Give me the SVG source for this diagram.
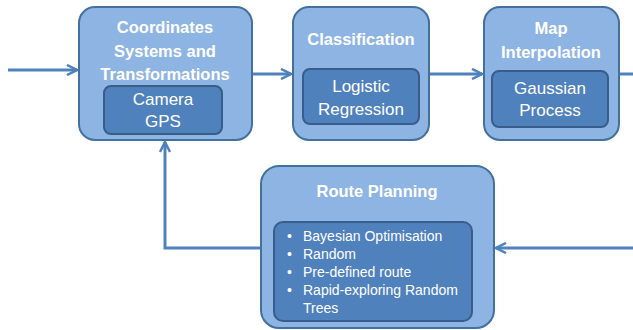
<svg xmlns="http://www.w3.org/2000/svg" width="633" height="330" viewBox="0 0 633 330">
<defs>
<style>
.outer{fill:#8EB4E3;stroke:#41719C;stroke-width:2}
.inner{fill:#4F81BD;stroke:#385D8A;stroke-width:2}
.t{font-family:"Liberation Sans",Arial,sans-serif;fill:#FFFFFF;text-anchor:middle}
.b{font-weight:bold;font-size:16.5px}
.r{font-size:17px}
.l{font-family:"Liberation Sans",Arial,sans-serif;fill:#FFFFFF;font-size:14px}
.c{fill:none;stroke:#4F81BD;stroke-width:3}
</style>
<marker id="ah" viewBox="0 0 12 12" refX="11" refY="6" markerWidth="12" markerHeight="12" markerUnits="userSpaceOnUse" orient="auto">
<path d="M1,1 L11,6 L1,11" fill="none" stroke="#4F81BD" stroke-width="2.5"/>
</marker>
</defs>
<rect width="633" height="330" fill="#FFFFFF"/>
<g id="connectors">
<line class="c" x1="8" y1="70" x2="77" y2="70" marker-end="url(#ah)"/>
<line class="c" x1="252" y1="74" x2="291" y2="74" marker-end="url(#ah)"/>
<line class="c" x1="429" y1="74" x2="482" y2="74" marker-end="url(#ah)"/>
<line class="c" x1="619" y1="74" x2="633" y2="74"/>
<polyline class="c" points="261,248 165,248 165,142" marker-end="url(#ah)"/>
<line class="c" x1="633" y1="248" x2="496" y2="248" marker-end="url(#ah)"/>
</g>
<g id="coordinates">
<rect class="outer" x="79" y="7" width="173" height="133" rx="16"/>
<text class="t b" x="165" y="33">Coordinates</text>
<text class="t b" x="165" y="57">Systems and</text>
<text class="t b" x="165" y="80">Transformations</text>
<rect class="inner" x="104" y="86" width="118" height="48" rx="7"/>
<text class="t r" x="163" y="105">Camera</text>
<text class="t r" x="163" y="127">GPS</text>
</g>
<g id="classification">
<rect class="outer" x="293" y="7" width="136" height="133" rx="16"/>
<text class="t b" x="361" y="45">Classification</text>
<rect class="inner" x="303" y="69" width="116" height="55" rx="7"/>
<text class="t r" x="361" y="92">Logistic</text>
<text class="t r" x="361" y="115">Regression</text>
</g>
<g id="map">
<rect class="outer" x="484" y="7" width="135" height="133" rx="16"/>
<text class="t b" x="551" y="34">Map</text>
<text class="t b" x="551" y="58">Interpolation</text>
<rect class="inner" x="492" y="71" width="116" height="56" rx="7"/>
<text class="t r" x="550" y="94">Gaussian</text>
<text class="t r" x="550" y="116">Process</text>
</g>
<g id="route">
<rect class="outer" x="261" y="166" width="233" height="162" rx="18"/>
<text class="t b" x="377" y="197">Route Planning</text>
<rect class="inner" x="274" y="222" width="198" height="99" rx="9"/>
<g class="l">
<text x="287" y="241">•</text><text x="303" y="241">Bayesian Optimisation</text>
<text x="287" y="259">•</text><text x="303" y="259">Random</text>
<text x="287" y="277">•</text><text x="303" y="277">Pre-defined route</text>
<text x="287" y="295">•</text><text x="303" y="295">Rapid-exploring Random</text>
<text x="303" y="313">Trees</text>
</g>
</g>
</svg>
